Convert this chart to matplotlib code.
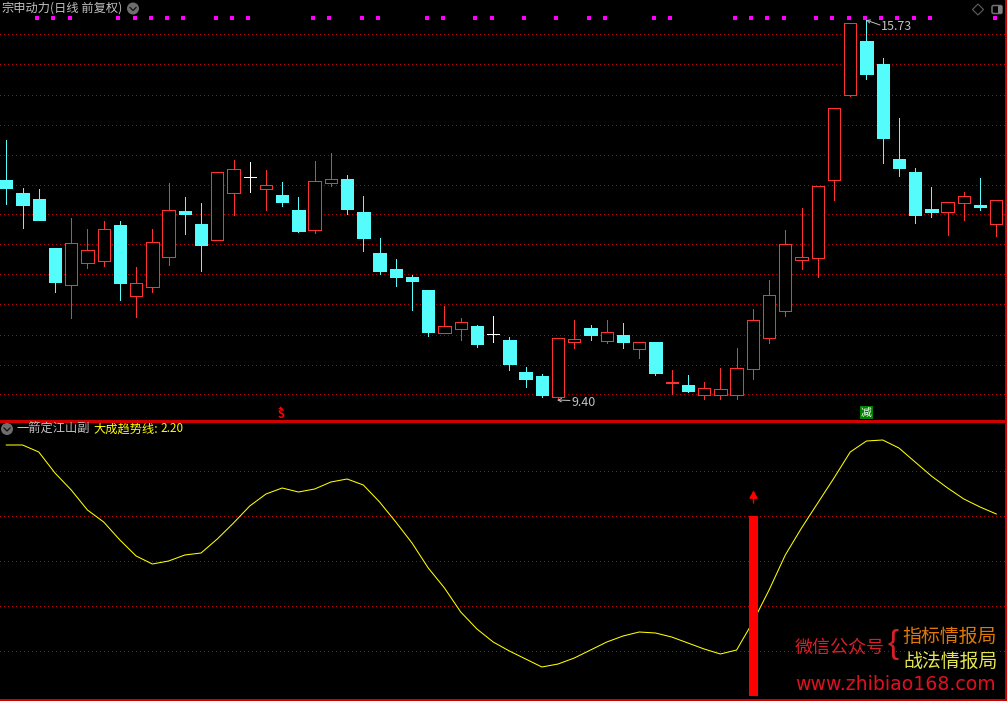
import numpy as np
import matplotlib
matplotlib.use("Agg")
import matplotlib.pyplot as plt
from matplotlib.patches import Circle, Polygon, FancyBboxPatch, Rectangle

plt.rcParams['font.family'] = ['Noto Sans CJK SC', 'DejaVu Sans']

# daily candles
opens = [13.05, 12.83, 12.73, 11.91, 11.29, 11.66, 11.69, 12.29, 11.11, 11.26,
         11.76, 12.53, 12.31, 12.04, 12.83, 13.10, 12.90, 12.80, 12.54, 12.21,
         13.00, 13.06, 12.51, 11.83, 11.56, 11.42, 11.21, 10.49, 10.55, 10.60,
         10.47, 10.37, 9.83, 9.77, 9.42, 10.34, 10.57, 10.35, 10.45, 10.22,
         10.34, 9.65, 9.62, 9.45, 9.45, 9.45, 9.89, 10.40, 10.85, 11.71,
         11.74, 13.05, 14.47, 15.37, 14.99, 13.40, 13.18, 12.56, 12.51, 12.66,
         12.63, 12.31]
highs = [13.72, 12.91, 12.90, 11.91, 12.41, 12.23, 12.36, 12.36, 11.59, 12.23,
         13.00, 12.76, 12.66, 13.18, 13.38, 13.35, 13.21, 13.01, 12.76, 13.36,
         13.50, 13.13, 12.78, 12.08, 11.72, 11.46, 11.21, 10.94, 10.74, 10.62,
         10.77, 10.42, 9.92, 9.80, 10.40, 10.70, 10.62, 10.70, 10.65, 10.34,
         10.34, 9.87, 9.78, 9.67, 9.90, 10.24, 10.89, 11.37, 12.21, 12.58,
         12.95, 14.25, 15.67, 15.73, 15.09, 14.08, 13.25, 12.93, 12.68, 12.85,
         13.08, 12.71]
lows = [12.64, 12.24, 12.38, 11.17, 10.74, 11.57, 11.61, 11.04, 10.76, 11.17,
        11.62, 12.14, 11.52, 12.04, 12.46, 12.85, 12.54, 12.61, 12.18, 12.16,
        12.95, 12.48, 11.86, 11.47, 11.27, 10.87, 10.44, 10.49, 10.37, 10.25,
        10.34, 9.87, 9.58, 9.42, 9.40, 10.24, 10.37, 10.32, 10.24, 10.07,
        9.78, 9.47, 9.50, 9.38, 9.38, 9.38, 9.72, 10.32, 10.77, 11.56,
        11.42, 12.71, 14.45, 14.74, 13.33, 13.11, 12.33, 12.43, 12.13, 12.38,
        12.54, 12.11]
closes = [12.91, 12.63, 12.38, 11.34, 11.99, 11.88, 12.23, 11.32, 11.32, 12.01,
          12.54, 12.48, 11.96, 13.18, 13.23, 13.10, 12.96, 12.68, 12.19, 13.03,
          13.06, 12.56, 12.08, 11.52, 11.42, 11.36, 10.50, 10.60, 10.67, 10.30,
          10.47, 9.97, 9.72, 9.45, 10.40, 10.39, 10.45, 10.50, 10.34, 10.34,
          9.82, 9.67, 9.52, 9.57, 9.55, 9.90, 10.70, 11.12, 11.98, 11.76,
          12.95, 14.25, 15.67, 14.82, 13.75, 13.25, 12.46, 12.51, 12.68, 12.78,
          12.60, 12.71]

# yellow trend line of the lower panel
trend = [2.89, 2.89, 2.82, 2.61, 2.44, 2.24, 2.12, 1.94, 1.78, 1.70,
         1.73, 1.79, 1.81, 1.95, 2.11, 2.28, 2.40, 2.46, 2.42, 2.45,
         2.52, 2.55, 2.49, 2.32, 2.12, 1.91, 1.66, 1.46, 1.22, 1.05,
         0.92, 0.83, 0.75, 0.67, 0.70, 0.76, 0.84, 0.92, 0.98, 1.02,
         1.01, 0.97, 0.91, 0.85, 0.80, 0.84, 1.12, 1.44, 1.79, 2.06,
         2.31, 2.56, 2.82, 2.93, 2.94, 2.86, 2.72, 2.58, 2.46, 2.35,
         2.27, 2.20]

# candles carrying a magenta dot on top
dot_days = [2, 3, 4, 7, 8, 9, 10, 11, 13, 14, 15, 19, 20, 22, 23, 26, 27, 29, 30,
            32, 34, 36, 37, 40, 41, 45, 46, 47, 48, 50, 51, 52, 53, 54, 55, 56, 57, 61]

price_grid = [15.48, 14.98, 14.47, 13.97, 13.47, 12.97, 12.47, 11.97, 11.47,
              10.97, 10.46, 9.96, 9.46]
trend_grid = [2.63, 2.18, 1.73, 1.28, 0.83]

signal_day = 46
signal_top = 2.18
signal_bottom = 0.38
buy_day = 17
sell_day = 53
high_label = "15.73"
low_label = "9.40"

RED = "#FF3232"
CYAN = "#54FCFC"
GRID = "#B80000"
FRAME = "#D00000"
GRAY = "#C0C0C0"
YELLOW = "#FFFF00"
W, H = 1007, 701
THIN = 0.55

fig = plt.figure(figsize=(W / 100, H / 100), dpi=100, facecolor="black")
ax = fig.add_axes([0, 281 / H, 1, 420 / H], facecolor="black")
ax2 = fig.add_axes([0, 0, 1, 281 / H], facecolor="black")
ov = fig.add_axes([0, 0, 1, 1], facecolor="none")

days = np.arange(len(opens))
xlim = (-0.388, 61.66)

for a in (ax, ax2):
    a.set_xlim(xlim)
    a.axis("off")
ax.set_ylim(9.032, 16.056)
ax2.set_ylim(0.33, 3.14)
ov.set_xlim(0, W)
ov.set_ylim(H, 0)
ov.axis("off")

for p in price_grid:
    ax.axhline(p, color=GRID, lw=THIN, dashes=(1.3, 4), antialiased=False, zorder=1)
for v in trend_grid:
    ax2.axhline(v, color=GRID, lw=THIN, dashes=(1.3, 4), antialiased=False, zorder=1)

# candles
for i in days:
    o, h, l, c = opens[i], highs[i], lows[i], closes[i]
    if c > o:
        col, face = RED, "black"
    elif c < o:
        col, face = CYAN, CYAN
    else:
        col, face = "white", "white"
    ax.vlines(i, l, h, color=col, lw=THIN, antialiased=False, zorder=2)
    if c == o:
        ax.hlines(o, i - 0.37, i + 0.37, color=col, lw=THIN, antialiased=False, zorder=3)
    else:
        ax.bar(i, abs(c - o), bottom=min(o, c), width=0.76, facecolor=face, edgecolor=col,
               linewidth=THIN, antialiased=False, zorder=3)

ax.scatter([d - 0.1 for d in dot_days], [15.75] * len(dot_days), marker="s", s=6,
           color="#FF00FF", linewidths=0, zorder=4)

# lower panel
ax2.plot(days, trend, color=YELLOW, lw=0.75, zorder=2)
ax2.bar(signal_day + 0.03, signal_top - signal_bottom, bottom=signal_bottom, width=0.56,
        color="#FF0000", linewidth=0, zorder=3)

# frame
ov.plot([0, W], [420.5, 420.5], color=FRAME, lw=1.0, antialiased=False)
ov.plot([0, W], [700, 700], color=FRAME, lw=1.0, antialiased=False)
ov.plot([1006, 1006], [0, H], color=FRAME, lw=1.0, antialiased=False)

# header texts
ov.text(1, 8.5, "宗申动力", color=GRAY, fontsize=8.8, va="center", ha="left")
ov.text(50, 8.5, "(日线 前复权)", color=GRAY, fontsize=8.8, va="center", ha="left")
ov.text(16, 429, "一箭定江山副", color=GRAY, fontsize=8.8, va="center", ha="left")
ov.text(93, 429, "大成趋势线:", color=YELLOW, fontsize=8.8, va="center", ha="left")
ov.text(160, 429, "2.20", color=YELLOW, fontsize=8.4, va="center", ha="left")

# round menu buttons
for cx, cy in [(133, 8.5), (7, 429)]:
    ov.add_patch(Circle((cx, cy), 6, color="#6E6E6E", lw=0))
    ov.plot([cx - 3, cx, cx + 3], [cy - 1, cy + 2, cy - 1], color="#101010", lw=0.9)

# window icons, top right
ov.add_patch(Polygon([(978, 4), (983.5, 9.5), (978, 15), (972.5, 9.5)], closed=True,
                     fill=False, edgecolor="#606060", lw=0.8))
ov.add_patch(FancyBboxPatch((992, 5.5), 10, 8, boxstyle="round,pad=0,rounding_size=1.5",
                            fill=False, edgecolor="#707070", lw=1.1))
ov.add_patch(Rectangle((998, 6), 3.5, 7, color="#808080", lw=0))

# extreme price labels
ov.annotate("", xy=(866, 20), xytext=(880, 25),
            arrowprops=dict(arrowstyle="->", color=GRAY, lw=0.7, mutation_scale=6,
                            shrinkA=0, shrinkB=0))
ov.text(881, 26, high_label, color=GRAY, fontsize=9, va="center", ha="left")
ov.annotate("", xy=(557, 400), xytext=(570, 400.5),
            arrowprops=dict(arrowstyle="->", color=GRAY, lw=0.7, mutation_scale=6,
                            shrinkA=0, shrinkB=0))
ov.text(571, 402, low_label, color=GRAY, fontsize=9, va="center", ha="left")

# buy / sell marks at the bottom of the price panel
bx = (buy_day + 0.388) * W / (xlim[1] - xlim[0]) - 1.5
sx = (sell_day + 0.388) * W / (xlim[1] - xlim[0])
ov.text(bx, 414, "S", color="#FF0000", fontsize=8, fontweight="bold", ha="center", va="center")
ov.add_patch(Polygon([(bx, 406.5), (bx + 2.5, 409), (bx - 2.5, 409)], closed=True, color="#FF0000", lw=0))
ov.text(sx, 412.5, "减", color="white", fontsize=7.8, ha="center", va="center",
        bbox=dict(facecolor="#008000", edgecolor="none", pad=1.0))

# signal arrow above the red bar
ov.annotate("", xy=(753.5, 490.5), xytext=(753.5, 503),
            arrowprops=dict(arrowstyle="-|>,head_length=0.45,head_width=0.25", color="#FF0000",
                            lw=1.0, mutation_scale=10, shrinkA=0, shrinkB=0))

# watermark
ov.text(795, 647.5, "微信公众号", color="#D81E28", fontsize=13, va="center", ha="left")
ov.text(902, 636, "指标情报局", color="#E07808", fontsize=13.6, va="center", ha="left")
ov.text(903, 661, "战法情报局", color="#E6E650", fontsize=13.6, va="center", ha="left")
ov.text(893.5, 645, "{", color="#D81E28", fontsize=24, va="center", ha="center",
        family="Liberation Sans")
ov.text(795, 684, "www.zhibiao168.com", color="#E01020", fontsize=13.6, va="center", ha="left",
        family="DejaVu Sans")

fig.savefig("out.png", dpi=100, facecolor="black")
